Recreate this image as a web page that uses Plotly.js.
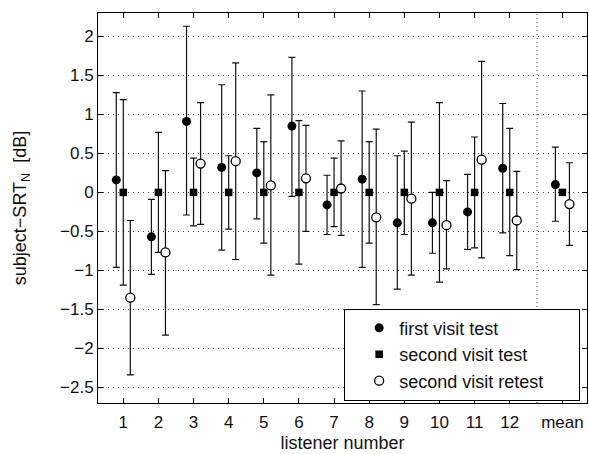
<!DOCTYPE html>
<html>
<head>
<meta charset="utf-8">
<script src="https://cdn.plot.ly/plotly-3.0.1.min.js"></script>
<style>html,body{margin:0;padding:0;background:#fff;}#chart{width:589px;height:454px;}</style>
</head>
<body>
<div id="chart"></div>
<script>
const categories = ["1","2","3","4","5","6","7","8","9","10","11","12","mean"];
const seriesNames = ["first visit test", "second visit test", "second visit retest"];

const firstTest      = [0.16, -0.57, 0.91, 0.32, 0.25, 0.85, -0.16, 0.17, -0.39, -0.39, -0.25, 0.31, 0.10];
const firstTestHigh  = [1.28, -0.09, 2.13, 1.38, 0.82, 1.73, 0.22, 1.30, 0.47, 0.00, 0.23, 1.14, 0.58];
const firstTestLow   = [-0.96, -1.05, -0.29, -0.74, -0.34, -0.05, -0.54, -0.96, -1.24, -0.78, -0.73, -0.52, -0.37];

const secondTest     = [0, 0, 0, 0, 0, 0, 0, 0, 0, 0, 0, 0, 0];
const secondTestHigh = [1.19, 0.77, 0.44, 0.47, 0.65, 0.92, 0.44, 0.65, 0.53, 1.15, 0.71, 0.82, 0];
const secondTestLow  = [-1.19, -0.77, -0.43, -0.47, -0.65, -0.92, -0.44, -0.65, -0.54, -1.15, -0.71, -0.81, 0];

const secondRetest     = [-1.35, -0.77, 0.37, 0.40, 0.09, 0.18, 0.05, -0.32, -0.08, -0.42, 0.42, -0.36, -0.15];
const secondRetestHigh = [-0.36, 0.28, 1.15, 1.66, 1.25, 0.86, 0.66, 0.81, 0.90, 0.15, 1.68, 0.27, 0.38];
const secondRetestLow  = [-2.34, -1.83, -0.41, -0.86, -1.06, -0.50, -0.55, -1.44, -1.06, -0.98, -0.84, -0.99, -0.68];

const yTicks = [-2.5, -2, -1.5, -1, -0.5, 0, 0.5, 1, 1.5, 2];
const yTickText = ["\u22122.5","\u22122","\u22121.5","\u22121","\u22120.5","0","0.5","1","1.5","2"];

const xPos = categories.map((c, i) => i < 12 ? i + 1 : 13.5);
const offset = 0.2;
const pad = '\u00a0\u00a0\u00a0\u00a0\u00a0\u00a0';

function errs(vals, hi, lo) {
  return {
    type: 'data', symmetric: false,
    array: hi.map((h, i) => h - vals[i]),
    arrayminus: lo.map((l, i) => vals[i] - l),
    color: '#111', thickness: 1.2, width: 3.5
  };
}

const traces = [
  {
    name: seriesNames[0] + pad, type: 'scatter', mode: 'markers',
    x: xPos.map(v => v - offset), y: firstTest,
    error_y: errs(firstTest, firstTestHigh, firstTestLow),
    marker: {symbol: 'circle', size: 9, color: '#000'}
  },
  {
    name: seriesNames[1] + pad, type: 'scatter', mode: 'markers',
    x: xPos, y: secondTest,
    error_y: errs(secondTest, secondTestHigh, secondTestLow),
    marker: {symbol: 'square', size: 7.5, color: '#000'}
  },
  {
    name: seriesNames[2] + pad, type: 'scatter', mode: 'markers',
    x: xPos.map(v => v + offset), y: secondRetest,
    error_y: errs(secondRetest, secondRetestHigh, secondRetestLow),
    marker: {symbol: 'circle', size: 9, color: '#fff', line: {color: '#000', width: 1.3}}
  }
];

const fontFam = 'Liberation Sans, Arial, Helvetica, sans-serif';

const layout = {
  width: 589, height: 454,
  margin: {l: 98, r: 2, t: 13, b: 51},
  paper_bgcolor: '#fff', plot_bgcolor: '#fff',
  font: {family: fontFam, size: 17, color: '#111'},
  showlegend: true,
  legend: {
    x: 0.986, y: 0.006, xanchor: 'right', yanchor: 'bottom',
    bgcolor: '#fff', bordercolor: '#000', borderwidth: 1,
    font: {family: fontFam, size: 18, color: '#111'},
    indentation: 14
  },
  xaxis: {
    range: [0.28, 14.2],
    tickmode: 'array', tickvals: xPos, ticktext: categories,
    ticks: 'inside', ticklen: 5, tickcolor: '#000', tickwidth: 1,
    ticklabelstandoff: 4,
    showgrid: false, zeroline: false,
    showline: true, linecolor: '#000', linewidth: 1, mirror: 'allticks',
    tickfont: {size: 17, color: '#111'},
    title: {text: 'listener number', font: {size: 18, color: '#111'}, standoff: 4}
  },
  yaxis: {
    range: [-2.7, 2.3],
    tickmode: 'array', tickvals: yTicks, ticktext: yTickText,
    ticks: 'inside', ticklen: 5, tickcolor: '#000', tickwidth: 1,
    showgrid: true, gridcolor: '#444', gridwidth: 1, griddash: '1px,4px',
    zeroline: false,
    showline: true, linecolor: '#000', linewidth: 1, mirror: 'allticks',
    tickfont: {size: 17, color: '#111'},
    title: {text: 'subject\u2212SRT<sub>N</sub>  [dB]', font: {size: 18, color: '#111'}, standoff: 28}
  },
  shapes: [{
    type: 'line', xref: 'x', yref: 'paper', x0: 12.78, x1: 12.78, y0: 0, y1: 1,
    line: {color: '#444', width: 1, dash: '1px,3px'}
  }]
};

Plotly.newPlot('chart', traces, layout, {displayModeBar: false, staticPlot: true});
</script>
</body>
</html>
